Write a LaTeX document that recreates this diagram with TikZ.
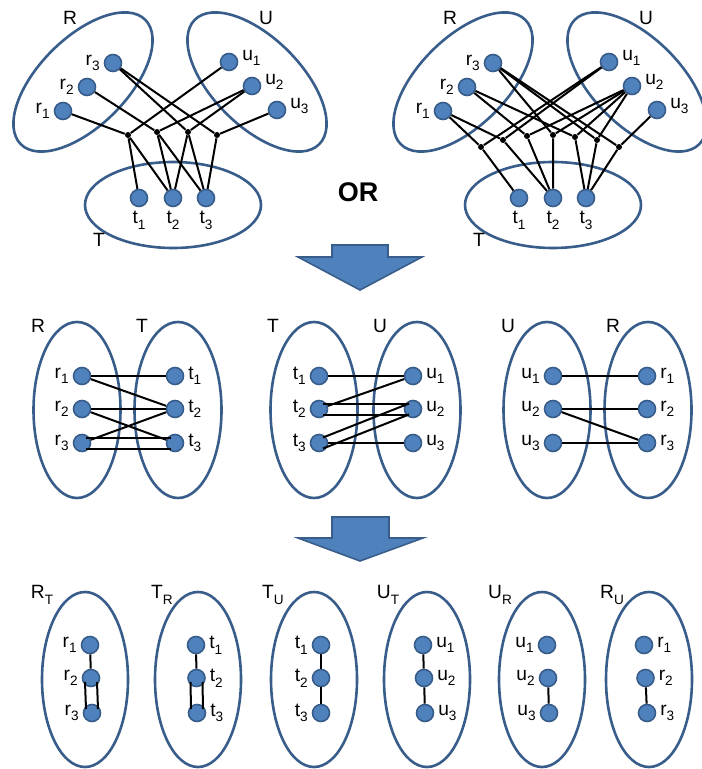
\documentclass[tikz,border=0pt]{standalone}
\usepackage{fontspec}
\setmainfont{Liberation Sans}
\definecolor{dotblue}{HTML}{4F81BD}
\definecolor{rimblue}{HTML}{385D8A}
\newcommand\idx[1]{\raisebox{-0.55ex}{\fontsize{6.8}{8}\selectfont#1}}
\tikzset{
  elem/.style={circle, draw=rimblue, fill=dotblue, line width=0.8pt, minimum size=8.5pt, inner sep=0pt},
  knot/.style={circle, fill=black, minimum size=3pt, inner sep=0pt},
  set/.style={draw=rimblue, line width=1.3pt},
  link/.style={line width=1pt},
  bigarrow/.style={draw=rimblue, fill=dotblue, line width=0.8pt, line join=miter},
  every label/.style={inner sep=1.8pt},
}

\begin{document}
\begin{tikzpicture}[x=0.5pt,y=-0.5pt,font=\fontsize{9.6}{11}\selectfont]
    \useasboundingbox (0,0) rectangle (701,769);

    % --- top left: hypergraph, one knot may hold two tuples
    \draw[set,rotate around={45:(83,82)}] (83,82) ellipse [x radius=88, y radius=44];   % R
    \draw[set,rotate around={-45:(257,82)}] (257,82) ellipse [x radius=88, y radius=44]; % U
    \draw[set] (173,205) ellipse [x radius=88, y radius=43];                             % T
    \node (xR) at (70,18) {R};
    \node (xU) at (266,18) {U};
    \node (xT) at (99,240) {T};
    \foreach \i/\x/\y in {1/63/111,2/87/87,3/113/63}
        \node[elem,label=left:r\idx{\i}] (xr\i) at (\x,\y) {};
    \foreach \i/\x/\y in {1/229/62,2/252/86,3/277/110}
        \node[elem,label={[yshift=2pt]right:u\idx{\i}}] (xu\i) at (\x,\y) {};
    \foreach \i/\x in {1/139,2/173,3/206}
        \node[elem,label=below:t\idx{\i}] (xt\i) at (\x,198) {};
    \foreach \k/\x/\y in {1/128/135,2/157/132,3/188/132,4/217/135}
        \node[knot] (xk\k) at (\x,\y) {};
    \foreach \a/\b in {xr1/xk1, xu1/xk1, xk1/xt1, xk1/xt2,
                       xr2/xk2, xu2/xk2, xk2/xt2, xk2/xt3,
                       xr3/xk3, xu2/xk3, xk3/xt2, xk3/xt3,
                       xr3/xk4, xu3/xk4, xk4/xt3}
        \draw[link] (\a) -- (\b);

    \node[font=\fontsize{13.5}{16}\selectfont\bfseries] (orword) at (358,192) {OR};

    % --- top right: same sets, one knot per tuple
    \draw[set,rotate around={45:(463,82)}] (463,82) ellipse [x radius=88, y radius=44];
    \draw[set,rotate around={-45:(637,82)}] (637,82) ellipse [x radius=88, y radius=44];
    \draw[set] (553,205) ellipse [x radius=88, y radius=43];
    \node (yR) at (450,18) {R};
    \node (yU) at (646,18) {U};
    \node (yT) at (479,240) {T};
    \foreach \i/\x/\y in {1/63/111,2/87/87,3/113/63}
        \node[elem,label=left:r\idx{\i}] (yr\i) at (\x+380,\y) {};
    \foreach \i/\x/\y in {1/229/62,2/252/86,3/277/110}
        \node[elem,label={[yshift=2pt]right:u\idx{\i}}] (yu\i) at (\x+380,\y) {};
    \foreach \i/\x in {1/139,2/173,3/206}
        \node[elem,label=below:t\idx{\i}] (yt\i) at (\x+380,198) {};
    \foreach \k/\x/\y in {1/481/147,2/503/140,3/527/136,4/553/135,5/575/137,6/597/140,7/619/147}
        \node[knot] (yk\k) at (\x,\y) {};
    \foreach \k/\r/\t/\u in {1/1/1/1, 2/1/2/1, 3/2/2/2, 4/3/2/2, 5/2/3/2, 6/3/3/2, 7/3/3/3}
        \draw[link] (yr\r) -- (yk\k) -- (yt\t) (yu\u) -- (yk\k);

    \draw[bigarrow] (332,245) -- (388,245) -- (388,257) -- (422,257) -- (360,290)
                    -- (298,257) -- (332,257) -- cycle;

    % --- middle row: pairs of sets
    \foreach \cx in {77,178,314,417,547,648}
        \draw[set] (\cx,410) ellipse [x radius=43.5, y radius=88];
    \node (aR) at (38,326) {R};
    \node (aT) at (142,326) {T};
    \node (bT) at (273,326) {T};
    \node (bU) at (380,326) {U};
    \node (cU) at (508,326) {U};
    \node (cR) at (613,326) {R};
    \foreach \i/\y in {1/376,2/409,3/443} {
        \node[elem,label=left:r\idx{\i}] (ar\i) at (82,\y) {};
        \node[elem,label=right:t\idx{\i}] (at\i) at (175,\y) {};
        \node[elem,label=left:t\idx{\i}] (bt\i) at (319,\y) {};
        \node[elem,label=right:u\idx{\i}] (bu\i) at (413,\y) {};
        \node[elem,label=left:u\idx{\i}] (cu\i) at (553,\y) {};
        \node[elem,label=right:r\idx{\i}] (cr\i) at (647,\y) {};
    }
    \foreach \a/\b in {ar1/at1, ar1/at2, ar2/at2, ar2/at3, ar3/at2,
                       bt1/bu1, bt2/bu1, bt3/bu3,
                       cu1/cr1, cu2/cr2, cu2/cr3, cu3/cr3}
        \draw[link] (\a) -- (\b);
    \foreach \a/\b in {ar3/at3, bt2/bu2, bt3/bu2} {
        \draw[link] ([shift={(2pt,2.75pt)}]\a.center) -- ([shift={(-2pt,2.75pt)}]\b.center);
        \draw[link] ([shift={(2pt,-2.75pt)}]\a.center) -- ([shift={(-2pt,-2.75pt)}]\b.center);
    }

    \draw[bigarrow] (332,517) -- (389,517) -- (389,538) -- (423,538) -- (360,561)
                    -- (298,538) -- (332,538) -- cycle;

    % --- bottom row: one set per side of a pair
    \foreach \cx in {85,198,314,427,542,649}
        \draw[set] (\cx,679.5) ellipse [x radius=43, y radius=87.5];
    \node (dR) at (42,595) {R\idx{T}};
    \node (eT) at (162,595) {T\idx{R}};
    \node (fT) at (273,595) {T\idx{U}};
    \node (gU) at (388,595) {U\idx{T}};
    \node (hU) at (500,595) {U\idx{R}};
    \node (iR) at (612,595) {R\idx{U}};
    \foreach \i/\y/\s in {1/645/0,2/678/1,3/713/2} {
        \node[elem,label=left:r\idx{\i}] (dr\i) at (90+\s,\y) {};
        \node[elem,label=right:t\idx{\i}] (et\i) at (196+0.5*\s,\y) {};
        \node[elem,label=left:t\idx{\i}] (ft\i) at (321,\y) {};
        \node[elem,label=right:u\idx{\i}] (gu\i) at (423+\s,\y) {};
        \node[elem,label=left:u\idx{\i}] (hu\i) at (547+\s,\y) {};
        \node[elem,label=right:r\idx{\i}] (ir\i) at (644+1.5*\s,\y) {};
    }
    \foreach \a/\b in {dr1/dr2, et1/et2, ft1/ft2, ft2/ft3, gu1/gu2, gu2/gu3, hu2/hu3, ir2/ir3}
        \draw[link] (\a) -- (\b);
    \foreach \a/\b in {dr2/dr3, et2/et3} {
        \draw[link] ([shift={(-3pt,-2pt)}]\a.center) -- ([shift={(-3pt,2pt)}]\b.center);
        \draw[link] ([shift={(3pt,-2pt)}]\a.center) -- ([shift={(3pt,2pt)}]\b.center);
    }
\end{tikzpicture}
\end{document}
